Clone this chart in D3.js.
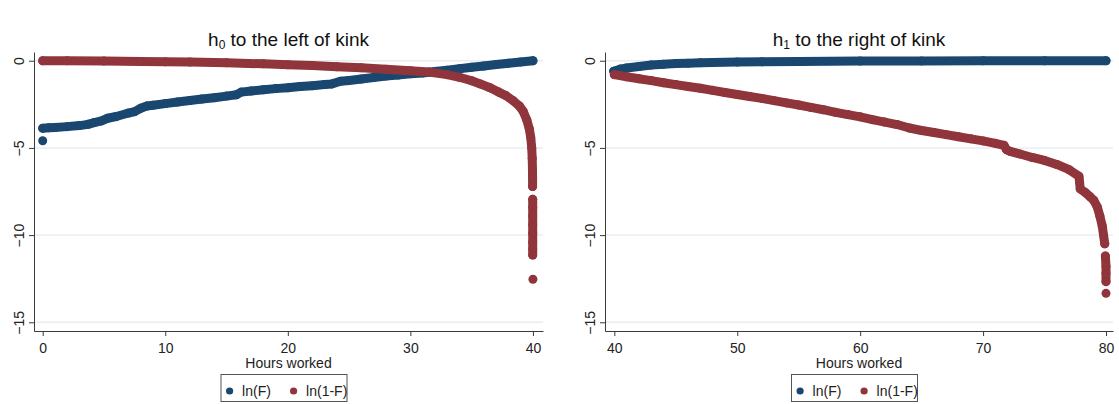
<!DOCTYPE html>
<html>
<head>
<meta charset="utf-8">
<script src="https://cdn.jsdelivr.net/npm/d3@7"></script>
<style>
  html, body { margin: 0; padding: 0; background: #fff; }
  svg { display: block; font-family: "Liberation Sans", Arial, sans-serif; }
</style>
</head>
<body>
<svg id="chart" width="1119" height="404"></svg>
<script>
// Hours worked below the kink (0-40): ln(F) and ln(1-F)
const leftFHours  = [0, 0.5, 1, 2, 3, 3.7, 4.2, 4.8, 5.3, 6, 7, 7.5, 8, 8.5, 9, 10, 11, 12, 13, 14, 15, 15.8, 16.2, 17, 18, 19, 20, 21, 22, 23, 23.6, 24.3, 25, 26, 27, 28, 29, 30, 31, 32, 33, 34, 35, 36, 37, 38, 39, 40];
const leftFValues = [-3.87, -3.85, -3.83, -3.78, -3.72, -3.65, -3.55, -3.45, -3.3, -3.2, -3.0, -2.92, -2.73, -2.6, -2.55, -2.46, -2.37, -2.28, -2.2, -2.12, -2.03, -1.95, -1.8, -1.74, -1.67, -1.6, -1.55, -1.48, -1.43, -1.37, -1.33, -1.18, -1.13, -1.05, -0.96, -0.88, -0.82, -0.75, -0.7, -0.62, -0.54, -0.46, -0.38, -0.3, -0.22, -0.14, -0.07, 0];
const leftFOutlierHours  = [0];
const leftFOutlierValues = [-4.59];

const leftSHours  = [0, 2, 5, 8, 10, 12, 15, 18, 20, 22, 24, 26, 28, 30, 31.5, 33, 34, 35, 35.7, 36.5, 37.2, 37.8, 38.4, 38.9, 39.2, 39.5, 39.7, 39.82, 39.9, 39.94, 39.96, 39.97, 39.97,
                     39.98, 39.98, 39.98, 39.98, 39.98, 39.98, 39.98, 39.98, 40];
const leftSValues = [0, 0, -0.02, -0.04, -0.06, -0.08, -0.12, -0.18, -0.23, -0.28, -0.35, -0.41, -0.49, -0.57, -0.65, -0.8, -0.95, -1.15, -1.33, -1.55, -1.8, -2.0, -2.3, -2.6, -2.9, -3.4, -3.9, -4.4, -5.0, -5.6, -6.2, -6.7, -7.22,
                     -7.95, -8.4, -8.9, -9.4, -9.9, -10.4, -10.8, -11.14, -12.53];

// Hours worked above the kink (40-80)
const rightFHours  = [39.95, 40.5, 41, 42, 43, 44, 45, 46, 47, 48, 50, 52, 55, 60, 65, 70, 75, 80];
const rightFValues = [-0.6, -0.48, -0.42, -0.33, -0.25, -0.2, -0.16, -0.14, -0.12, -0.1, -0.08, -0.06, -0.04, -0.02, -0.01, -0.005, 0, 0];

const rightSHours  = [40, 41, 42, 43, 44, 45, 46, 47, 48, 49, 50, 51, 52, 53, 54, 55, 56, 57, 58, 59, 60, 61, 62, 63, 64, 65, 66, 67, 68, 69, 70, 71, 71.7, 71.9, 72.2, 73, 74, 75, 76, 77, 77.8, 77.85, 77.9, 78.3, 78.7, 79.0, 79.3, 79.5, 79.7, 79.8, 79.9, 79.95, 80, 80, 80, 80];
const rightSValues = [-0.8, -0.92, -1.03, -1.14, -1.26, -1.37, -1.48, -1.58, -1.7, -1.82, -1.94, -2.05, -2.16, -2.29, -2.42, -2.54, -2.68, -2.81, -2.96, -3.09, -3.22, -3.38, -3.52, -3.66, -3.86, -4.0, -4.12, -4.24, -4.36, -4.48, -4.6, -4.74, -4.85, -5.1, -5.2, -5.35, -5.55, -5.72, -5.95, -6.25, -6.62, -6.95, -7.35, -7.55, -7.8, -8.0, -8.4, -8.9, -9.5, -10.0, -10.5, -11.2, -11.8, -12.2, -12.67, -13.34];

const xTicksLeft  = [0, 10, 20, 30, 40];
const xTicksRight = [40, 50, 60, 70, 80];
const yTicks = [0, -5, -10, -15];
const legendLabels = ["ln(F)", "ln(1-F)"];

const NAVY = "#1a476f";
const MAROON = "#90353b";
const AXIS = "#3a3a3a";
const GRID = "#e8eef0";
const R = 4.5;
const FS = "14px";

const svg = d3.select("#chart");

const zip = (hs, vs) => hs.map((h, i) => ({ h, v: vs[i] }));

function panel(opt) {
  const x = d3.scaleLinear().domain(opt.xDomain).range([opt.left, opt.right]);
  const y = d3.scaleLinear().domain([-15.5, 0.5]).range([331, 52]);
  const g = svg.append("g");

  // horizontal grid
  g.selectAll("line.grid").data(yTicks).join("line")
    .attr("class", "grid")
    .attr("x1", opt.left).attr("x2", opt.right)
    .attr("y1", d => y(d)).attr("y2", d => y(d))
    .attr("stroke", GRID).attr("stroke-width", 1.5);

  // y axis
  const ya = g.append("g").attr("transform", `translate(${opt.left},0)`)
    .call(d3.axisLeft(y).tickValues(yTicks).tickSize(5).tickSizeOuter(0).tickFormat(d3.format("d")));
  ya.select(".domain").attr("stroke", AXIS);
  ya.selectAll(".tick line").attr("stroke", AXIS);
  ya.selectAll(".tick text")
    .attr("transform", "rotate(-90)")
    .attr("x", 0).attr("y", -10.5).attr("dy", 0)
    .style("text-anchor", "middle")
    .attr("fill", "#222").style("font-size", FS)
    .style("font-family", "'Liberation Sans', Arial, sans-serif");

  // x axis
  const xa = g.append("g").attr("transform", "translate(0,331)")
    .call(d3.axisBottom(x).tickValues(opt.xTicks).tickSize(5).tickPadding(7).tickSizeOuter(0).tickFormat(d3.format("d")));
  xa.select(".domain").attr("stroke", AXIS);
  xa.selectAll(".tick line").attr("stroke", AXIS);
  xa.selectAll(".tick text").attr("fill", "#222").style("font-size", FS)
    .style("font-family", "'Liberation Sans', Arial, sans-serif");

  const cx = (opt.left + opt.right) / 2;

  // x title
  g.append("text").attr("x", cx).attr("y", 368).attr("text-anchor", "middle")
    .attr("fill", "#222").style("font-size", FS).text("Hours worked");

  // panel title with subscript
  const t = g.append("text").attr("x", cx).attr("y", 46).attr("text-anchor", "middle")
    .attr("fill", "#111").style("font-size", "19px");
  t.append("tspan").text("h");
  t.append("tspan").attr("dy", 3).style("font-size", "12px").text(opt.sub);
  t.append("tspan").attr("dy", -3).text(" " + opt.titleRest);

  // series: contiguous runs drawn as a band, every point as a dot
  const line = d3.line().x(d => x(d.h)).y(d => y(d.v));
  function runs(pts) {
    const out = [];
    let cur = [];
    pts.forEach((p, i) => {
      if (i > 0) {
        const q = pts[i - 1];
        // a vertical jump larger than one dot leaves a visible gap
        if (Math.abs(y(p.v) - y(q.v)) > 11) { out.push(cur); cur = []; }
      }
      cur.push(p);
    });
    out.push(cur);
    return out;
  }
  function drawSeries(pts, color) {
    const s = g.append("g");
    s.selectAll("path").data(runs(pts).filter(r => r.length > 1)).join("path")
      .attr("d", line).attr("fill", "none").attr("stroke", color)
      .attr("stroke-width", 2 * R).attr("stroke-linecap", "round").attr("stroke-linejoin", "round");
    s.selectAll("circle").data(pts).join("circle")
      .attr("cx", d => x(d.h)).attr("cy", d => y(d.v)).attr("r", R).attr("fill", color);
  }
  opt.series.forEach(s => drawSeries(s.pts, s.color));

  // legend
  const lx = cx - 67.5;
  const lg = g.append("g");
  lg.append("rect").attr("x", lx).attr("y", 374.5).attr("width", 126).attr("height", 27)
    .attr("fill", "#fff").attr("stroke", "#555").attr("stroke-width", 1);
  const items = [{ label: legendLabels[0], color: NAVY, dx: 8.6 }, { label: legendLabels[1], color: MAROON, dx: 72.6 }];
  items.forEach(it => {
    lg.append("circle").attr("cx", lx + it.dx).attr("cy", 391).attr("r", 3.6).attr("fill", it.color);
    lg.append("text").attr("x", lx + it.dx + 12.5).attr("y", 396).attr("fill", "#222")
      .style("font-size", FS).text(it.label);
  });
}

panel({
  left: 34, right: 543, xDomain: [-0.71, 40.82], xTicks: xTicksLeft,
  sub: "0", titleRest: "to the left of kink",
  series: [
    { pts: zip(leftFHours, leftFValues), color: NAVY },
    { pts: zip(leftFOutlierHours, leftFOutlierValues), color: NAVY },
    { pts: zip(leftSHours, leftSValues), color: MAROON }
  ]
});

panel({
  left: 605, right: 1113, xDomain: [39.24, 80.57], xTicks: xTicksRight,
  sub: "1", titleRest: "to the right of kink",
  series: [
    { pts: zip(rightFHours, rightFValues), color: NAVY },
    { pts: zip(rightSHours, rightSValues), color: MAROON }
  ]
});
</script>
</body>
</html>
